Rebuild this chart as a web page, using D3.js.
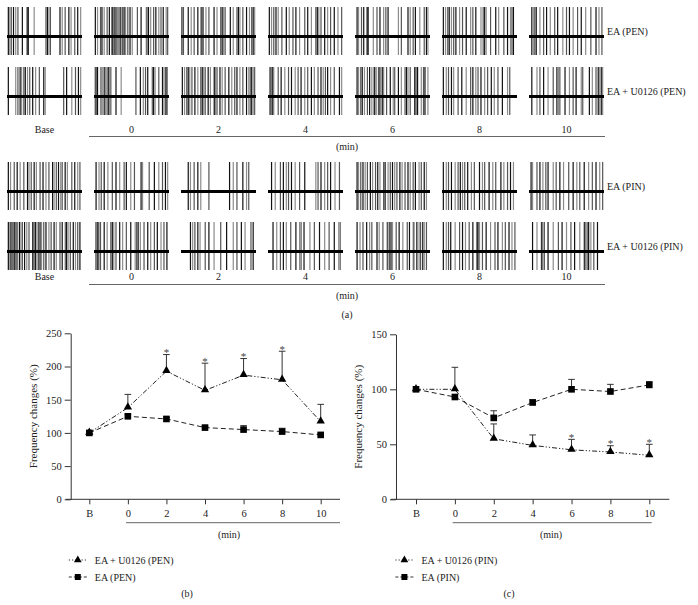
<!DOCTYPE html>
<html><head><meta charset="utf-8">
<script src="https://cdn.jsdelivr.net/npm/d3@7/dist/d3.min.js"></script>
<style>body{margin:0;background:#fff}</style>
</head><body>
<svg id="fig" width="698" height="605" font-family="Liberation Serif"></svg>
<script>
// ---------- DATA ----------
const timeLabels = ["Base","0","2","4","6","8","10"];
const rasterRowLabels = ["EA (PEN)","EA + U0126 (PEN)","EA (PIN)","EA + U0126 (PIN)"];
// spike times, % of each recording window
const spikesEAPen = [
  [1,3,5,8,11,14,20,26,27,28,36,52,54,56,58,71,74,78,83,86,91,95,99],
  [1,4,8,10,13,17,20,23,24,25,26,27,29,31,33,35,36,38,40,42,45,48,51,58,63,70,71,73,76,80,83,87,90,93,97,99],
  [0.5,1.5,2.5,9,13,17,22,26,27,29,33,37,44,48,53,55,57,59,66,70,75,77,79,83,88,92,95,97,99],
  [1,4,7,10,13,18,24,28,33,37,42,49,53,58,64,66,68,71,76,80,84,89,94,99],
  [2,4,8,11,15,16,17,24,29,33,38,41,44,58,62,71,74,78,81,87,93,96,98],
  [1,4,7,9,12,15,18,23,27,32,38,41,45,52,55,57,59,65,72,76,83,88,92,94,96],
  [3,5,7,9,14,19,23,28,34,38,45,50,54,59,65,70,76,83,90,94,98]
];
const spikesU0126Pen = [
  [1,11,14,17,19,22,24,27,30,34,38,43,49,51,76,80,87,92,96,99],
  [1,2,3,4,8,10,13,15,17,19,20,22,29,36,56,62,66,69,72,78,79,80,82,87,92,94,96,98],
  [1,4,7,9,11,14,18,22,26,28,30,32,36,39,44,45,46,48,52,55,59,64,68,72,75,79,83,88,91,93,95,97,99],
  [2,4,5,6,7,13,17,22,27,31,36,40,44,49,53,58,62,67,71,74,77,80,84,89,96,99],
  [2,4,7,9,12,16,19,22,25,26,28,31,33,34,36,37,38,42,47,51,53,58,62,67,69,71,74,80,81,82,84,89,92,94,98],
  [1,5,8,12,15,21,26,32,38,41,45,48,52,57,61,66,70,75,81,88,91],
  [3,10,14,19,25,32,37,39,41,48,54,59,63,70,72,81,85,90,93,95,97,98,99]
];
const spikesEAPin = [
  [1,4,9,13,17,22,27,29,32,36,39,44,48,52,56,61,63,66,69,72,74,78,81,87,91,95,98],
  [2,6,9,13,18,24,29,34,40,43,49,54,63,65,74,81,87,92,96,99],
  [9,12,17,22,26,37,65,70,75,83,88,91],
  [4,9,16,20,24,27,31,36,42,49,64,67,71,76,80,84,90,96],
  [2,4,7,10,13,16,20,23,27,30,33,38,40,44,47,50,53,56,60,63,67,71,74,78,81,86,89,93,96],
  [1,5,8,12,17,21,24,27,30,34,39,43,50,54,57,63,68,72,79,83,88,92,96],
  [2,4,10,14,18,22,25,32,36,41,46,53,59,64,68,74,80,85,90,95,99]
];
const spikesU0126Pin = [
  [1,3,4,6,8,9,10,12,13,16,18,20,23,26,29,34,35,36,38,40,42,44,46,49,52,56,59,63,66,71,74,78,79,80,82,85,89,92,95,98],
  [2,3,4,5,6,8,13,17,22,24,26,29,34,38,43,49,55,57,59,62,67,72,76,81,85,90,94,98],
  [12,15,18,22,25,32,37,44,53,61,70,75,81,86,94,97],
  [6,11,16,20,24,30,37,42,44,48,56,62,69,76,82,89,95,97],
  [2,6,10,15,19,22,29,32,37,43,44,46,48,50,55,59,64,70,73,78,79,83,86,88,91,93,96],
  [1,5,8,11,17,23,27,31,36,41,46,47,48,50,54,59,65,71,75,81,85,90,94,98],
  [4,10,16,17,18,20,25,32,39,44,50,56,61,68,74,75,76,78,80,83,87,92]
];

const chartCats = ["B","0","2","4","6","8","10"];
const penU0126 = [100,138,193,164,187,180,117];
const penU0126Sem = [0,20,25,41,25,43,26];
const penEA = [100,125,121,108,105,102,97];
const penEASem = [0,3,2,2,6,5,2];
const penStars = [0,0,1,1,1,1,0];
const pinU0126 = [100,100,55,49,45,43,40];
const pinU0126Sem = [0,20,13.5,9.5,9.5,5.7,10];
const pinEA = [100,93,74,88,100,98,104];
const pinEASem = [0,0,6.5,2.5,9,6.5,3];
const pinStars = [0,0,0,0,1,1,1];
const penTicks = [0,50,100,150,200,250];
const pinTicks = [0,50,100,150];

// ---------- DRAW ----------
const FONT = "Liberation Serif";
const TXT = "#222";
const svg = d3.select("#fig");
function txt(sel){ return sel.attr("font-family",FONT).attr("fill",TXT); }

// Raster panel (a)
const xBand = d3.scaleBand().domain(timeLabels).range([7,604]).paddingInner(0.138).paddingOuter(0);
const blocks = [
  {rows:[spikesEAPen, spikesU0126Pen], tops:[7,67], labelY:133, lineY:136.5, minY:150},
  {rows:[spikesEAPin, spikesU0126Pin], tops:[162,222], labelY:280, lineY:284.5, minY:299}
];
const rowH = 48, barOff = 29.5;
let rIdx = 0;
blocks.forEach(b => {
  b.rows.forEach((row, ri) => {
    const top = b.tops[ri];
    const label = rasterRowLabels[rIdx++];
    row.forEach((sp, ci) => {
      const x0 = xBand(timeLabels[ci]);
      const xs = d3.scaleLinear().domain([0,100]).range([x0+0.6, x0+xBand.bandwidth()-0.6]);
      const g = svg.append("g");
      g.selectAll("line").data(sp).enter().append("line")
        .attr("x1", d=>xs(d)).attr("x2", d=>xs(d))
        .attr("y1", top).attr("y2", top+rowH)
        .attr("stroke", (d,i)=> i%3===1 ? "#8c8c8c" : (i%3===2 ? "#555" : "#111"))
        .attr("stroke-width", 1.2);
      g.append("line").attr("x1", x0).attr("x2", x0+xBand.bandwidth())
        .attr("y1", top+barOff).attr("y2", top+barOff)
        .attr("stroke","#000").attr("stroke-width",3.2);
    });
    txt(svg.append("text")).attr("x",607).attr("y",top+barOff-1.5)
      .attr("font-size",10).text(label);
  });
  txt(svg.selectAll(null).data(timeLabels).enter().append("text"))
    .attr("x", d=>xBand(d)+xBand.bandwidth()/2).attr("y", b.labelY)
    .attr("text-anchor","middle").attr("font-size",10).text(d=>d);
  svg.append("line").attr("x1",89).attr("x2",605).attr("y1",b.lineY).attr("y2",b.lineY)
    .attr("stroke","#666").attr("stroke-width",1);
  txt(svg.append("text")).attr("x",347).attr("y",b.minY).attr("text-anchor","middle")
    .attr("font-size",10).text("(min)");
});
txt(svg.append("text")).attr("x",347).attr("y",318).attr("text-anchor","middle")
  .attr("font-size",10).text("(a)");

// Line charts
function chart(cfg){
  const x = d3.scalePoint().domain(chartCats).range(cfg.xr);
  const y = d3.scaleLinear().domain([0, cfg.ymax]).range([499.3, cfg.ytop]);
  const g = svg.append("g");
  const col = "#333";
  const ya = g.append("g").attr("transform",`translate(${cfg.ax},0)`)
    .call(d3.axisLeft(y).tickValues(cfg.ticks).tickSize(6).tickPadding(3).tickSizeOuter(0));
  const xa = g.append("g").attr("transform",`translate(0,499.3)`)
    .call(d3.axisBottom(x).tickSize(5).tickPadding(5));
  xa.select(".domain").remove();
  g.append("line").attr("x1",cfg.ax-5).attr("x2",cfg.axEnd).attr("y1",499.3).attr("y2",499.3).attr("stroke",col);
  [ya,xa].forEach(a=>{
    a.attr("font-family",FONT).attr("font-size",10.5);
    a.selectAll("text").attr("font-family",FONT).attr("font-size",10.5).attr("fill",TXT);
    a.selectAll("line,path").attr("stroke",col);
  });
  txt(g.append("text")).attr("transform",`translate(${cfg.ax-34},${(499.3+cfg.ytop)/2}) rotate(-90)`)
    .attr("text-anchor","middle").attr("font-size",11).text("Frequency changes (%)");
  g.append("line").attr("x1",cfg.ul[0]).attr("x2",cfg.ul[1]).attr("y1",522.7).attr("y2",522.7)
    .attr("stroke","#666");
  txt(g.append("text")).attr("x",cfg.minX).attr("y",538).attr("text-anchor","middle")
    .attr("font-size",10).text("(min)");

  const series = [
    {v:cfg.tri, e:cfg.triE, dash:"5,2,1.2,2,1.2,2", sym:d3.symbolTriangle, size:30},
    {v:cfg.sq, e:cfg.sqE, dash:"5,3", sym:d3.symbolSquare, size:44}
  ];
  series.forEach(s=>{
    const eb = s.v.map((v,i)=>({c:chartCats[i], v, e:s.e[i]})).filter(d=>d.e>0);
    g.selectAll(null).data(eb).enter().append("line")
      .attr("x1",d=>x(d.c)).attr("x2",d=>x(d.c)).attr("y1",d=>y(d.v)).attr("y2",d=>y(d.v+d.e))
      .attr("stroke",col).attr("stroke-width",1);
    g.selectAll(null).data(eb).enter().append("line")
      .attr("x1",d=>x(d.c)-3.3).attr("x2",d=>x(d.c)+3.3).attr("y1",d=>y(d.v+d.e)).attr("y2",d=>y(d.v+d.e))
      .attr("stroke",col).attr("stroke-width",1);
  });
  series.forEach(s=>{
    const line = d3.line().x((d,i)=>x(chartCats[i])).y(d=>y(d));
    g.append("path").attr("d",line(s.v)).attr("fill","none").attr("stroke","#222")
      .attr("stroke-width",1).attr("stroke-dasharray",s.dash);
    g.selectAll(null).data(s.v).enter().append("path")
      .attr("d",d3.symbol().type(s.sym).size(s.size))
      .attr("transform",(d,i)=>`translate(${x(chartCats[i])},${y(d)+(s.sym===d3.symbolTriangle?-0.5:0)})`)
      .attr("fill","#000");
  });
  const st = cfg.tri.map((v,i)=>({c:chartCats[i], top:v+cfg.triE[i], s:cfg.stars[i]})).filter(d=>d.s);
  txt(g.selectAll(null).data(st).enter().append("text"))
    .attr("x",d=>x(d.c)).attr("y",d=>y(d.top)+1.5).attr("text-anchor","middle")
    .attr("font-size",11).attr("fill","#444").text("*");
  const lx = cfg.legX;
  [{y:560, sym:d3.symbolTriangle, dash:"1.2,2", size:26, label:cfg.l1},
   {y:577, sym:d3.symbolSquare, dash:"3,2", size:36, label:cfg.l2}].forEach(L=>{
    g.append("line").attr("x1",lx-9).attr("x2",lx+10).attr("y1",L.y).attr("y2",L.y)
      .attr("stroke","#333").attr("stroke-dasharray",L.dash);
    g.append("path").attr("d",d3.symbol().type(L.sym).size(L.size)).attr("transform",`translate(${lx},${L.y})`)
      .attr("fill","#000");
    txt(g.append("text")).attr("x",lx+17).attr("y",L.y+3.5).attr("font-size",10).text(L.label);
  });
  txt(g.append("text")).attr("x",cfg.capX).attr("y",597).attr("text-anchor","middle")
    .attr("font-size",10).text(cfg.cap);
}

chart({xr:[89.3,320.7], ymax:250, ytop:333.3, ax:70.7, axEnd:340, ticks:penTicks,
  tri:penU0126, triE:penU0126Sem, sq:penEA, sqE:penEASem, stars:penStars,
  ul:[126,340], minX:229, legX:77.8, l1:"EA + U0126 (PEN)", l2:"EA (PEN)", capX:187, cap:"(b)"});
chart({xr:[416,649.3], ymax:150, ytop:334.3, ax:396, axEnd:669.3, ticks:pinTicks,
  tri:pinU0126, triE:pinU0126Sem, sq:pinEA, sqE:pinEASem, stars:pinStars,
  ul:[452.7,651.7], minX:551, legX:404.4, l1:"EA + U0126 (PIN)", l2:"EA (PIN)", capX:509, cap:"(c)"});
</script>
</body></html>
